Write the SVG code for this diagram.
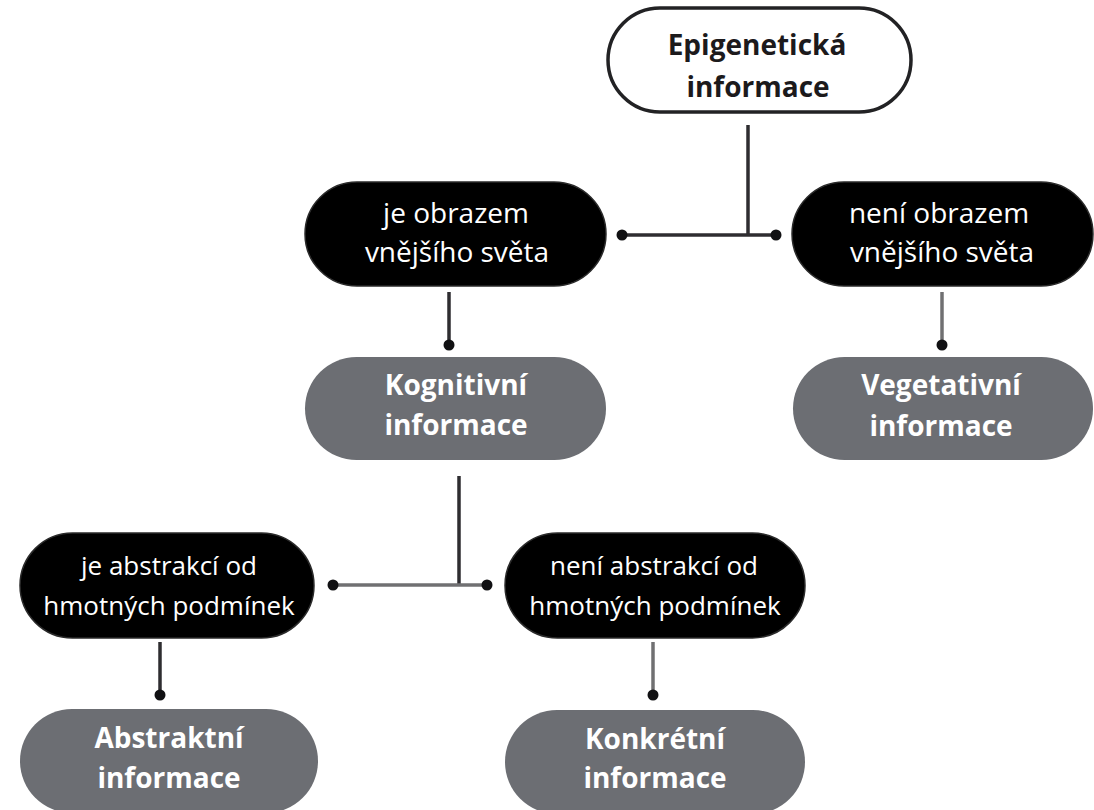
<svg xmlns="http://www.w3.org/2000/svg" width="1094" height="810" viewBox="0 0 1094 810">
<style>
.bg{fill:#ffffff}
.start rect{fill:#ffffff;stroke:#222224;stroke-width:3.5}
.cond rect{fill:#000000;stroke:#2a2a2a;stroke-width:1.5}
.res rect{fill:#6c6e73}
.tb{font-family:"Open Sans","Liberation Sans",sans-serif;font-weight:700;font-size:28px;text-anchor:middle}
.tr{font-family:"Open Sans","Liberation Sans",sans-serif;font-weight:400;text-anchor:middle;fill:#ffffff}
.start text{fill:#1c1a1c}
.res text{fill:#ffffff}
.ln{stroke:#2e2d30;stroke-width:3.5;fill:none}
.lg{stroke:#707072;stroke-width:3.5;fill:none}
.dot{fill:#111113}
</style>
<rect class="bg" x="0" y="0" width="1094" height="810"/>
<g id="connectors">
  <path class="ln" d="M748,125 V235"/>
  <path class="ln" d="M622,235 H776"/>
  <circle class="dot" cx="622" cy="235" r="5.5"/>
  <circle class="dot" cx="776" cy="235" r="5.5"/>
  <path class="ln" d="M449,292 V345"/>
  <circle class="dot" cx="449" cy="345" r="5.5"/>
  <path class="lg" d="M942,292 V345"/>
  <circle class="dot" cx="942" cy="345" r="5.5"/>
  <path class="ln" d="M459,476 V585"/>
  <path class="lg" d="M333,585 H487"/>
  <circle class="dot" cx="333" cy="585" r="5.5"/>
  <circle class="dot" cx="487" cy="585" r="5.5"/>
  <path class="ln" d="M160,642 V695"/>
  <circle class="dot" cx="160" cy="695" r="5.5"/>
  <path class="lg" d="M653,642 V695"/>
  <circle class="dot" cx="653" cy="695" r="5.5"/>
</g>
<g id="epigeneticka" class="start">
  <rect x="608" y="8" width="303" height="104" rx="52"/>
  <text class="tb" x="757" y="55">Epigenetická</text>
  <text class="tb" x="758" y="97">informace</text>
</g>
<g id="je-obrazem" class="cond">
  <rect x="305" y="182" width="301" height="104" rx="52"/>
  <text class="tr" font-size="28" x="456" y="223">je obrazem</text>
  <text class="tr" font-size="28" x="457" y="262">vnějšího světa</text>
</g>
<g id="neni-obrazem" class="cond">
  <rect x="792" y="182" width="301" height="104" rx="52"/>
  <text class="tr" font-size="28" x="939" y="223">není obrazem</text>
  <text class="tr" font-size="28" x="942" y="262">vnějšího světa</text>
</g>
<g id="kognitivni" class="res">
  <rect x="305" y="357" width="301" height="103" rx="51.5"/>
  <text class="tb" x="456" y="395">Kognitivní</text>
  <text class="tb" x="456" y="435">informace</text>
</g>
<g id="vegetativni" class="res">
  <rect x="793" y="357" width="300" height="103" rx="51.5"/>
  <text class="tb" x="941" y="395">Vegetativní</text>
  <text class="tb" x="941" y="436">informace</text>
</g>
<g id="je-abstrakci" class="cond">
  <rect x="20" y="533" width="294" height="105" rx="52.5"/>
  <text class="tr" font-size="26" x="169" y="575">je abstrakcí od</text>
  <text class="tr" font-size="26" x="169" y="615">hmotných podmínek</text>
</g>
<g id="neni-abstrakci" class="cond">
  <rect x="505" y="533" width="300" height="105" rx="52.5"/>
  <text class="tr" font-size="26" x="654" y="575">není abstrakcí od</text>
  <text class="tr" font-size="26" x="655" y="615">hmotných podmínek</text>
</g>
<g id="abstraktni" class="res">
  <rect x="20" y="709" width="298" height="104" rx="52"/>
  <text class="tb" x="169" y="748">Abstraktní</text>
  <text class="tb" x="169" y="788">informace</text>
</g>
<g id="konkretni" class="res">
  <rect x="505" y="710" width="300" height="104" rx="52"/>
  <text class="tb" x="655" y="749">Konkrétní</text>
  <text class="tb" x="655" y="788">informace</text>
</g>
</svg>
